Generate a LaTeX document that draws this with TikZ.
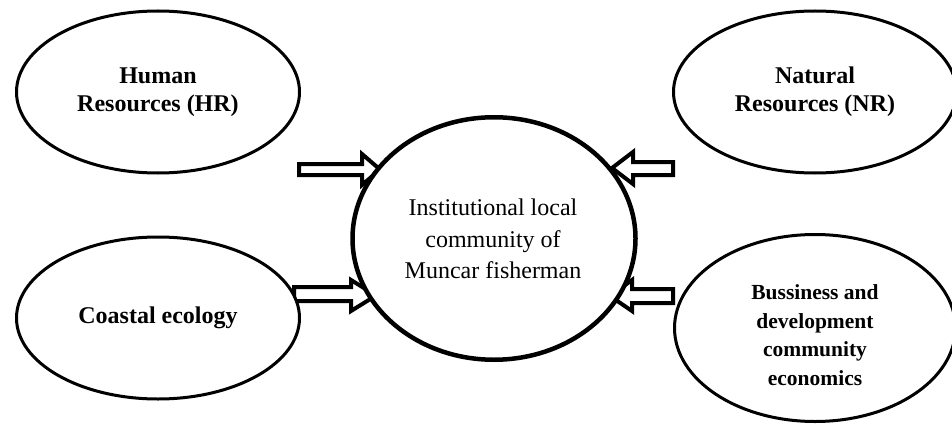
\documentclass[tikz,border=0pt]{standalone}
\usepackage{fontspec}
\setmainfont{Liberation Serif}
\usetikzlibrary{shapes.geometric}
\tikzset{
  outer/.style={ellipse, draw=black, fill=white, line width=3pt, inner sep=0pt,
    minimum width=283pt, minimum height=162pt},
  lbl/.style={align=center, font=\fontsize{24}{28}\selectfont\bfseries, inner sep=0pt},
  blockarr/.style={draw=black, fill=white, line width=4pt, line join=miter},
}
\begin{document}
\begin{tikzpicture}[x=1pt,y=-1pt]
\useasboundingbox (0,0) rectangle (952,425);
% block arrows (drawn first, ellipses cover their ends)
\draw[blockarr] (299,164) -- (362,164) -- (362,154) -- (380,169.5) -- (362,185) -- (362,175) -- (299,175) -- cycle;
\draw[blockarr] (673,162) -- (633,162) -- (633,152) -- (612,168) -- (633,184) -- (633,175) -- (673,175) -- cycle;
\draw[blockarr] (294,287) -- (351,287) -- (351,280) -- (376,295.5) -- (351,311) -- (351,301) -- (294,301) -- cycle;
\draw[blockarr] (673,289) -- (632,289) -- (632,280) -- (610,296) -- (632,311) -- (632,303) -- (673,303) -- cycle;
% ellipses
\node[outer] (hr) at (158,92) {};
\node[lbl] (hrt) at (158,92) {Human\\Resources (HR)};
\node[outer] (nr) at (815,92) {};
\node[lbl] (nrt) at (815,92) {Natural\\Resources (NR)};
\node[outer] (ce) at (158,318) {};
\node[lbl] (cet) at (158,318) {Coastal ecology};
\node[outer, minimum width=281pt, minimum height=187pt] (bd) at (815,328) {};
\node[lbl, font=\fontsize{21.5}{28.5}\selectfont\bfseries] (bdt) at (815,335) {Bussiness and\\development\\community\\economics};
\node[ellipse, draw=black, fill=white, line width=4.5pt, inner sep=0pt,
  minimum width=283pt, minimum height=242.5pt] (ic) at (494,238.5) {};
\node[align=center, inner sep=0pt, font=\fontsize{24}{31.5}\selectfont] (ict) at (493,239)
  {Institutional local\\community of\\Muncar fisherman};
\end{tikzpicture}
\end{document}
